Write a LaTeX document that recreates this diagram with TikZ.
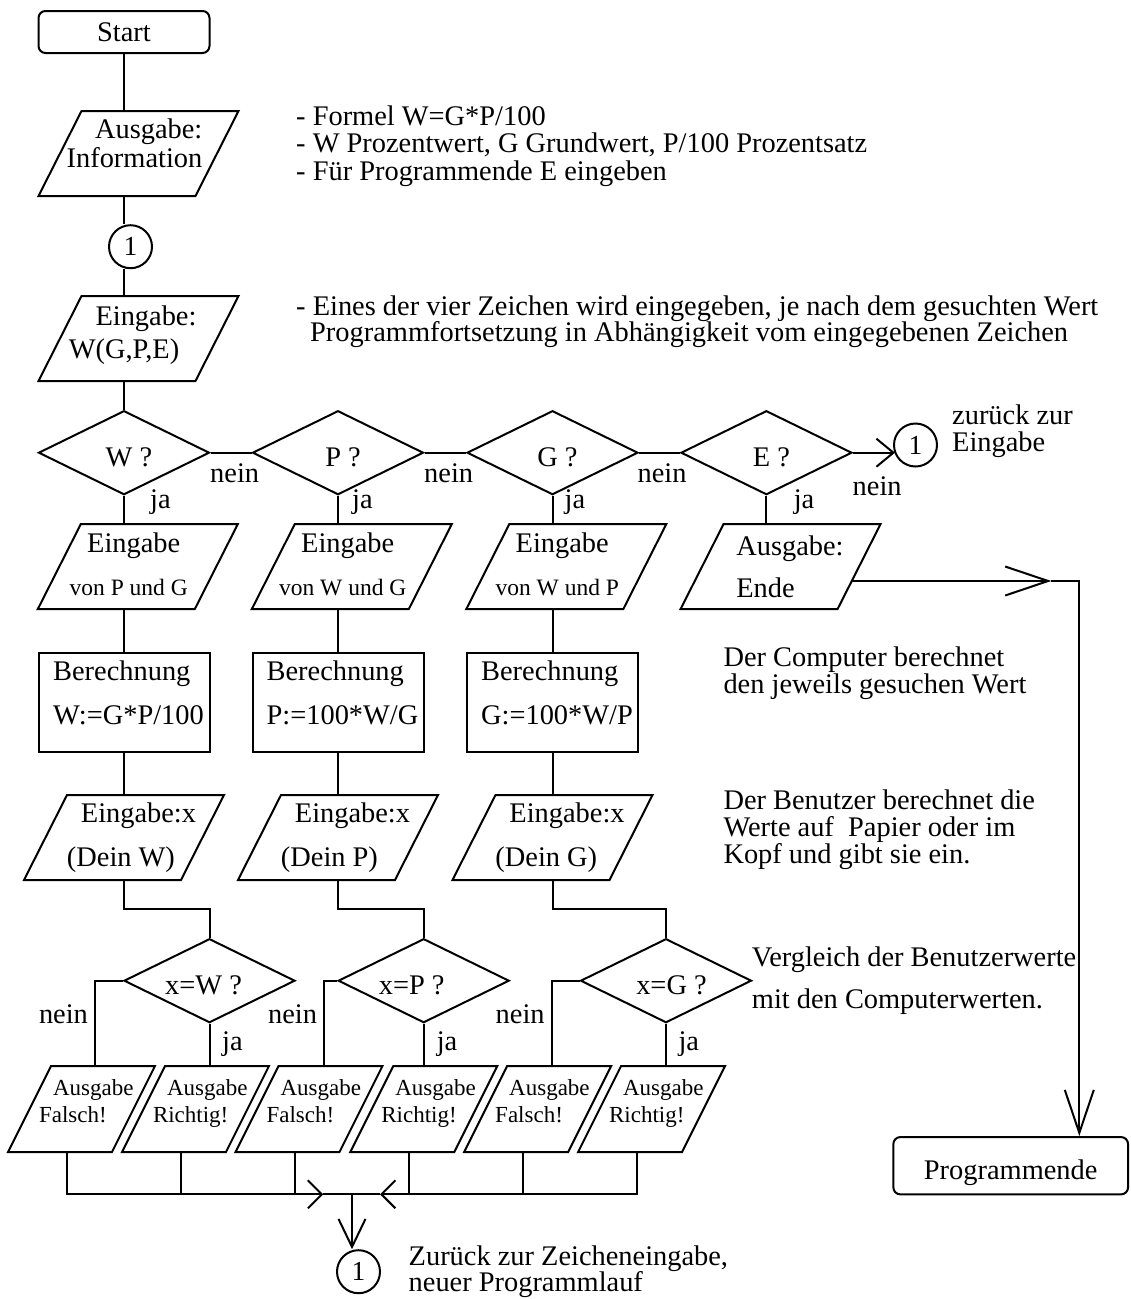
\documentclass[tikz,border=0pt]{standalone}
\usepackage{fontspec}
\setmainfont{Liberation Serif}
\usetikzlibrary{shapes.geometric,arrows.meta}

% invisible struts that move a node text up (depth) or down (height)
\newcommand\lowpad[1]{\rule[-#1]{0pt}{#1}}
\newcommand\highpad[1]{\rule{0pt}{#1}}
% slanted outline of an input/output node
\newcommand\slantframe[2][21.5]{%
  \draw[flow] ([xshift=#1pt]#2.north west) -- ([xshift=#1pt]#2.north east)
    -- ([xshift=-#1pt]#2.south east) -- ([xshift=-#1pt]#2.south west) -- cycle;}

\tikzset{
  tipBus/.tip={Straight Barb[length=14pt,width=28pt]},
  tipDown/.tip={Straight Barb[length=28pt,width=27pt]},
  tipRing/.tip={Straight Barb[length=17pt,width=28pt]},
  tipLong/.tip={Straight Barb[length=43pt,width=29pt]},
  flow/.style={line width=2pt, line join=miter},
  terminal/.style={draw, line width=2pt, rounded corners=7pt, inner sep=0pt},
  io/.style={inner sep=0pt, outer sep=0pt, minimum width=157pt, minimum height=85pt},
  iosmall/.style={io, minimum width=100.5pt, minimum height=86pt, align=left,
    font=\fontsize{23}{27.7}\selectfont},
  proc/.style={draw, line width=2pt, inner sep=0pt, minimum width=171pt,
    minimum height=99pt, align=left, font=\fontsize{28.4}{43.3}\selectfont},
  decision/.style={diamond, draw, line width=2pt, inner sep=0pt, aspect=2,
    minimum width=171pt, minimum height=84pt},
  connector/.style={circle, draw, line width=2pt, inner sep=0pt, minimum size=43pt,
    font=\fontsize{27.5}{28}\selectfont},
  lbl/.style={inner sep=0pt, anchor=base west},
  note/.style={inner sep=0pt, anchor=base west, align=left,
    font=\fontsize{28.4}{27.5}\selectfont},
}

\begin{document}
\begin{tikzpicture}[x=1pt, y=-1pt, font=\fontsize{28.4}{28.4}\selectfont]
\useasboundingbox (0,0) rectangle (1131,1299);

% ---------- main column ----------
\node[terminal, minimum width=171pt, minimum height=42pt] (start) at (124,32) {Start};
\node[io, align=right, font=\fontsize{28.4}{28.4}\selectfont] (info) at (138.5,153.5)
  {Ausgabe:\hspace*{8pt}\\Information\hspace*{8pt}\lowpad{20.8pt}};
\node[connector] (c1) at (130.5,246.7) {1};
\node[io, align=center, font=\fontsize{28.4}{33.3}\selectfont] (inp) at (138.5,338.5)
  {\hspace*{15pt}Eingabe:\\W(G,P,E)\hspace*{29pt}\lowpad{12.5pt}};

% ---------- selection ----------
\node[decision] (dW) at (124,452.7)   {\hspace*{10pt}W ?\highpad{28pt}};
\node[decision] (dP) at (338,452.7)   {\hspace*{10pt}P ?\highpad{28pt}};
\node[decision] (dG) at (552.5,452.7) {\hspace*{10pt}G ?\highpad{28pt}};
\node[decision] (dE) at (766.4,452.7) {\hspace*{10pt}E ?\highpad{28pt}};
\node[connector] (c2) at (915.5,445) {1};

\node[io, align=center, font=\fontsize{28.4}{43}\selectfont] (pW) at (137.75,566.7)
  {Eingabe\hspace*{8pt}\\{\fontsize{23.5}{43}\selectfont von P und G}\hspace*{18pt}\lowpad{5pt}};
\node[io, align=center, font=\fontsize{28.4}{43}\selectfont] (pP) at (351.75,566.7)
  {Eingabe\hspace*{8pt}\\{\fontsize{23.5}{43}\selectfont von W und G}\hspace*{18pt}\lowpad{5pt}};
\node[io, align=center, font=\fontsize{28.4}{43}\selectfont] (pG) at (566.25,566.7)
  {Eingabe\hspace*{8pt}\\{\fontsize{23.5}{43}\selectfont von W und P}\hspace*{18pt}\lowpad{5pt}};
\node[io, align=left, font=\fontsize{28.4}{42.3}\selectfont] (ende) at (780.5,566.7)
  {\hspace*{19pt}Ausgabe:\\\hspace*{19pt}Ende};

\node[proc] (bW) at (124,702.2)   {\hspace*{9pt}Berechnung\\\hspace*{9pt}W:=G*P/100\lowpad{19.4pt}};
\node[proc] (bP) at (338,702.2)   {\hspace*{9pt}Berechnung\\\hspace*{9pt}P:=100*W/G\lowpad{19.4pt}};
\node[proc] (bG) at (552.5,702.2) {\hspace*{9pt}Berechnung\\\hspace*{9pt}G:=100*W/P\lowpad{19.4pt}};

\node[io, align=left, font=\fontsize{28.4}{43.7}\selectfont] (xW) at (124,837.5)
  {\hspace*{29pt}Eingabe:x\\\hspace*{15pt}(Dein W)};
\node[io, align=left, font=\fontsize{28.4}{43.7}\selectfont] (xP) at (338,837.5)
  {\hspace*{29pt}Eingabe:x\\\hspace*{15pt}(Dein P)};
\node[io, align=left, font=\fontsize{28.4}{43.7}\selectfont] (xG) at (552.5,837.5)
  {\hspace*{29pt}Eingabe:x\\\hspace*{15pt}(Dein G)};

% ---------- comparison ----------
\node[decision] (dxW) at (209.5,980.7) {x=W ?\hspace*{12pt}\highpad{28.6pt}};
\node[decision] (dxP) at (423.7,980.7) {x=P ?\hspace*{24pt}\highpad{28.6pt}};
\node[decision] (dxG) at (666,980.7)   {\hspace*{11pt}x=G ?\highpad{28.6pt}};

\node[iosmall] (fW) at (81.5,1109)  {\hspace*{23.5pt}Ausgabe\\\hspace*{9.5pt}Falsch!\lowpad{16pt}};
\node[iosmall] (rW) at (195.5,1109) {\hspace*{23.5pt}Ausgabe\\\hspace*{9.5pt}Richtig!\lowpad{16pt}};
\node[iosmall] (fP) at (309,1109)   {\hspace*{23.5pt}Ausgabe\\\hspace*{9.5pt}Falsch!\lowpad{16pt}};
\node[iosmall] (rP) at (423.8,1109) {\hspace*{23.5pt}Ausgabe\\\hspace*{9.5pt}Richtig!\lowpad{16pt}};
\node[iosmall] (fG) at (537.7,1109) {\hspace*{23.5pt}Ausgabe\\\hspace*{9.5pt}Falsch!\lowpad{16pt}};
\node[iosmall] (rG) at (651.6,1109) {\hspace*{23.5pt}Ausgabe\\\hspace*{9.5pt}Richtig!\lowpad{16pt}};

\node[connector] (c3) at (358.5,1271.7) {1};
\node[terminal, minimum width=234.7pt, minimum height=57.3pt] (pend) at (1010.7,1165.7)
  {\highpad{33pt}Programmende};

% slanted outlines
\foreach \n in {info,inp,pW,pP,pG,ende,xW,xP,xG,fW,rW,fP,rP,fG,rG} {\slantframe{\n}}

% ---------- connectors ----------
\draw[flow] (start.south) -- (start.south |- info.north);
\draw[flow] (start.south |- info.south) -- (start.south |- c1.north);
\draw[flow] (start.south |- c1.south) -- (start.south |- inp.north);
\draw[flow] (start.south |- inp.south) -- (dW.north);

\draw[flow] (dW.east) -- (dP.west);
\draw[flow] (dP.east) -- (dG.west);
\draw[flow] (dG.east) -- (dE.west);
\draw[flow, -{tipRing}] (dE.east) -- ([xshift=2pt]dE.east -| c2.west);

\draw[flow] (dW.south) -- (dW.south |- pW.north);
\draw[flow] (dP.south) -- (dP.south |- pP.north);
\draw[flow] (dG.south) -- (dG.south |- pG.north);
\draw[flow] (dE.south) -- (dE.south |- ende.north);

\draw[flow] (dW.south |- pW.south) -- (bW.north);
\draw[flow] (dP.south |- pP.south) -- (bP.north);
\draw[flow] (dG.south |- pG.south) -- (bG.north);

\draw[flow] (bW.south) -- (xW.north);
\draw[flow] (bP.south) -- (xP.north);
\draw[flow] (bG.south) -- (xG.north);

\draw[flow] (xW.south) -- ++(0,29.3) -| (dxW.north);
\draw[flow] (xP.south) -- ++(0,29.3) -| (dxP.north);
\draw[flow] (xG.south) -- ++(0,29.3) -| (dxG.north);

\draw[flow] (dxW.west) -| ([xshift=13.5pt]fW.north);
\draw[flow] (dxP.west) -| ([xshift=14.7pt]fP.north);
\draw[flow] (dxG.west) -| ([xshift=14.3pt]fG.north);
\draw[flow] (dxW.south) -- (dxW.south |- rW.north);
\draw[flow] (dxP.south) -- (dxP.south |- rP.north);
\draw[flow] (dxG.south) -- (dxG.south |- rG.north);

% collecting line
\coordinate (tipL) at (323.3,1194.3);
\coordinate (tipR) at (380,1194.3);
\coordinate (bus)  at (352,1194.3);
\draw[flow, -{tipBus}] ([xshift=-14.5pt]fW.south) |- (tipL);
\draw[flow] ([xshift=-14.5pt]rW.south) -- ([xshift=-14.5pt]rW.south |- tipL);
\draw[flow] ([xshift=-14.5pt]fP.south) -- ([xshift=-14.5pt]fP.south |- tipL);
\draw[flow] (tipL) -- (tipR);
\draw[flow, -{tipBus}] ([xshift=-14.5pt]rG.south) |- (tipR);
\draw[flow] ([xshift=-14.5pt]rP.south) -- ([xshift=-14.5pt]rP.south |- tipR);
\draw[flow] ([xshift=-14.5pt]fG.south) -- ([xshift=-14.5pt]fG.south |- tipR);
\draw[flow, -{tipDown}] (bus) -- (bus |- c3.north);

% end of program
\coordinate (tipE) at (1051.3,581);
\draw[flow, -{tipLong}] ([shift={(-7.2,14.3)}]ende.east) -- (tipE);
\draw[flow, -{tipLong}] (tipE) -| ([xshift=68.6pt]pend.north);

% ---------- branch labels ----------
\node[lbl] (nein1) at (210,482)   {nein};
\node[lbl] (nein2) at (424,482)   {nein};
\node[lbl] (nein3) at (637.4,482) {nein};
\node[lbl] (nein4) at (852.5,495) {nein};
\node[lbl] (ja1) at (150,508)   {ja};
\node[lbl] (ja2) at (352,508)   {ja};
\node[lbl] (ja3) at (564.5,508) {ja};
\node[lbl] (ja4) at (793.6,508) {ja};
\node[lbl] (nein5) at (38.8,1023)  {nein};
\node[lbl] (nein6) at (267.9,1023) {nein};
\node[lbl] (nein7) at (495.5,1023) {nein};
\node[lbl] (ja5) at (222,1050)   {ja};
\node[lbl] (ja6) at (436.6,1050) {ja};
\node[lbl] (ja7) at (678.3,1050) {ja};

% ---------- comments (anchored at the baseline of their last line) ----------
\node[note] (t1) at (296,180)
  {- Formel W=G*P/100\\- W Prozentwert, G Grundwert, P/100 Prozentsatz\\- Für Programmende E eingeben};
\node[note, font=\fontsize{28.4}{26.7}\selectfont] (t2) at (296,341.7)
  {- Eines der vier Zeichen wird eingegeben, je nach dem gesuchten Wert\\\hspace*{14pt}Programmfortsetzung in Abhängigkeit vom eingegebenen Zeichen};
\node[note] (t3) at (952,451.7) {zurück zur\\Eingabe};
\node[note, font=\fontsize{28.4}{26.7}\selectfont] (t4) at (723.3,693.3)
  {Der Computer berechnet\\den jeweils gesuchen Wert};
\node[note, font=\fontsize{28.4}{26.7}\selectfont] (t5) at (723.3,863.3)
  {Der Benutzer berechnet die\\Werte auf\ \ Papier oder im\\Kopf und gibt sie ein.};
\node[note, font=\fontsize{28.4}{42.3}\selectfont] (t6) at (751.7,1008.3)
  {Vergleich der Benutzerwerte\\mit den Computerwerten.};
\node[note, font=\fontsize{28.4}{26.7}\selectfont] (t7) at (408.5,1291.7)
  {Zurück zur Zeicheneingabe,\\neuer Programmlauf};
\end{tikzpicture}
\end{document}
